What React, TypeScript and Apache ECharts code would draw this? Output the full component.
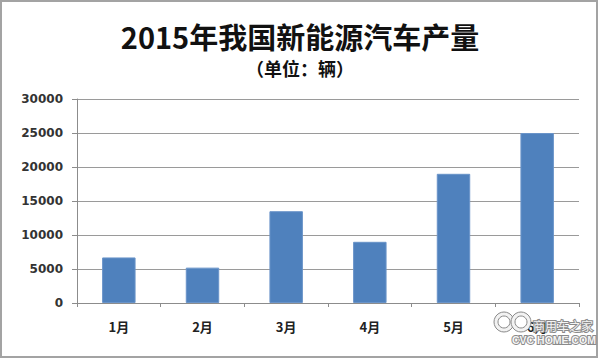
import React, { useEffect, useRef } from "react";
import * as echarts from "echarts";

const titleText = "2015年我国新能源汽车产量";
const subtitleText = "（单位：辆）";
const categories = ["1月", "2月", "3月", "4月", "5月", "6月"];
const production = [6700, 5200, 13500, 9000, 19000, 25000];
const yTicks = { min: 0, max: 30000, interval: 5000 };

export default function App() {
  const ref = useRef<HTMLDivElement>(null);
  useEffect(() => {
    if (!ref.current) return;
    const chart = echarts.init(ref.current, undefined, { renderer: "svg" });
    chart.setOption({
      animation: false,
      backgroundColor: "#fff",
      title: [
        {
          text: titleText,
          left: "center",
          top: 16,
          textStyle: { fontFamily: "Noto Sans CJK SC", fontWeight: "bold", fontSize: 29, color: "#111" },
        },
        {
          text: subtitleText,
          left: "center",
          top: 54,
          textStyle: { fontFamily: "Noto Sans CJK SC", fontWeight: "bold", fontSize: 18, color: "#111" },
        },
      ],
      grid: { left: 77, right: 21, top: 99, bottom: 58 },
      xAxis: {
        type: "category",
        data: categories,
        axisLine: { lineStyle: { color: "#8c8c8c", width: 1 } },
        axisTick: { show: true, length: 4, lineStyle: { color: "#8c8c8c" } },
        axisLabel: { fontFamily: "Noto Sans CJK SC", fontWeight: "bold", fontSize: 13, color: "#222", margin: 17 },
      },
      yAxis: {
        type: "value",
        min: yTicks.min,
        max: yTicks.max,
        interval: yTicks.interval,
        axisLine: { show: true, lineStyle: { color: "#8c8c8c", width: 1 } },
        axisTick: { show: true, length: 5, lineStyle: { color: "#8c8c8c" } },
        axisLabel: {
          fontFamily: "DejaVu Sans",
          fontWeight: "bold",
          fontSize: 12,
          color: "#333",
          margin: 14,
          formatter: (v: number) => String(v),
        },
        splitLine: { lineStyle: { color: "#9a9a9a", width: 1 } },
      },
      series: [
        {
          type: "bar",
          data: production,
          barWidth: "40%",
          itemStyle: { color: "#4f81bd", borderColor: "#6a94c9", borderWidth: 1 },
        },
      ],
      graphic: [
        {
          type: "rect",
          shape: { x: 1, y: 1, width: 596, height: 356 },
          style: { fill: "none", stroke: "#a3a3a3", lineWidth: 2 },
          silent: true,
        },
        { type: "ring", z: 100, shape: { cx: 504, cy: 322, r: 10, r0: 6 }, style: { fill: "#f2f2f2", stroke: "#8a8a8a", lineWidth: 1 } },
        { type: "ring", z: 100, shape: { cx: 521, cy: 322, r: 10, r0: 6 }, style: { fill: "#f2f2f2", stroke: "#8a8a8a", lineWidth: 1 } },
        {
          type: "text",
          z: 100,
          x: 533,
          y: 319,
          style: { text: "商用车之家", fontFamily: "Noto Sans CJK SC", fontSize: 12, fill: "#f4f4f4", stroke: "#8a8a8a", lineWidth: 2 },
        },
        {
          type: "text",
          z: 100,
          x: 512,
          y: 334,
          style: { text: "CVC HOME.COM", fontFamily: "Liberation Sans", fontWeight: "bold", fontSize: 10.5, fill: "#f4f4f4", stroke: "#8a8a8a", lineWidth: 2 },
        },
      ],
    });
    return () => chart.dispose();
  }, []);
  return <div ref={ref} style={{ position: "absolute", left: 0, top: 0, width: 600, height: 361 }} />;
}
